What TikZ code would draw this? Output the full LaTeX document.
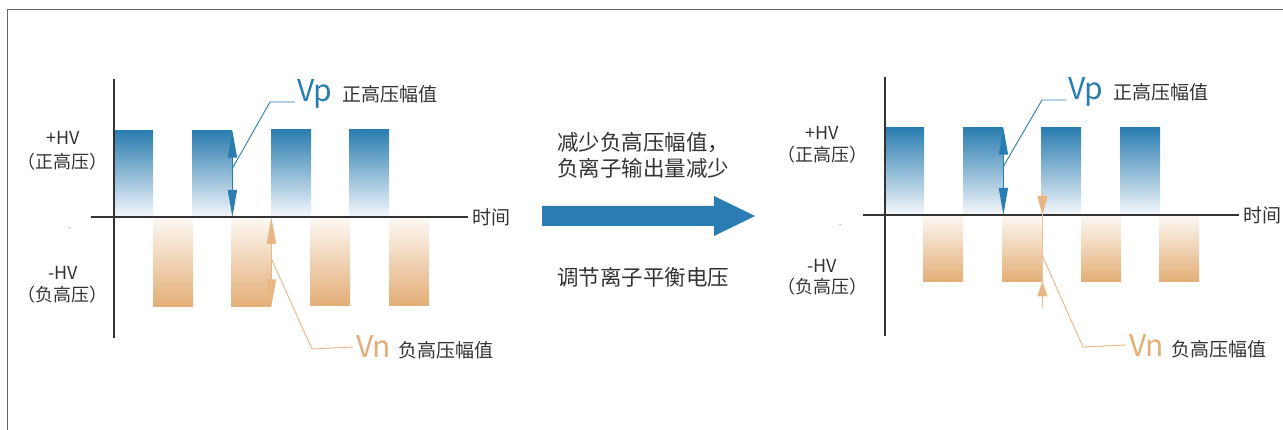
\documentclass[tikz,border=0pt]{standalone}
\usepackage{fontspec}
\setmainfont{Noto Sans CJK SC}
\usepackage{xcolor}
\usetikzlibrary{arrows.meta,positioning}

\definecolor{vpblue}{HTML}{2A7DB0}
\definecolor{vpfade}{HTML}{F4F7FB}
\definecolor{vnorange}{HTML}{E3AE77}
\definecolor{vnline}{HTML}{E8B683}
\definecolor{vnfade}{HTML}{FCF8F3}
\definecolor{txtgray}{HTML}{333333}
\definecolor{axisgray}{HTML}{333333}

\begin{document}
\begin{tikzpicture}[x=1pt, y=-1pt,
    axis/.style={draw=axisgray, line width=1.3pt},
    pos bar/.style={inner sep=0, minimum width=40, minimum height=#1, top color=vpblue, bottom color=vpfade, anchor=south west},
    neg bar/.style={inner sep=0, minimum width=40, minimum height=#1, top color=vnfade, bottom color=vnorange, anchor=north west},
    hv label/.style={text=txtgray, font=\fontsize{18}{20}\selectfont, inner sep=0},
    amp label/.style={text=txtgray, font=\fontsize{19}{21}\selectfont, inner sep=0, anchor=base west},
    vp text/.style={text=vpblue, font=\fontsize{30}{32}\selectfont, inner sep=0, anchor=base west},
    vn text/.style={text=vnorange, font=\fontsize{30}{32}\selectfont, inner sep=0, anchor=base west},
    mid text/.style={text=txtgray, font=\fontsize{21.5}{26}\selectfont, inner sep=0, anchor=west, align=left},
    vp arrow/.style={draw=vpblue, line width=1.5pt, arrows={Triangle[length=27pt,width=9pt]-Triangle[length=27pt,width=9pt]}},
    vn arrow/.style={draw=vnline, line width=1.5pt, arrows={Triangle[length=27pt,width=9pt]-Triangle[length=27pt,width=9pt]}},
    vp lead/.style={draw=vpblue, line width=0.9pt},
    vn lead/.style={draw=vnline, line width=0.9pt}]

  % frame
  \useasboundingbox (0,0) rectangle (1283,430);
  \draw[gray!80!black, line width=1pt] (1283,10) -- (7,10) -- (7,430);

  % left panel
  \node[pos bar=86] (p1) at (113,217) {};
  \node[pos bar=86] (p2) at (192,217) {};
  \node[pos bar=87] (p3) at (271,217) {};
  \node[pos bar=87] (p4) at (349,217) {};
  \node[neg bar=89] (n1) at (153,217) {};
  \node[neg bar=89] (n2) at (231,217) {};
  \node[neg bar=88] (n3) at (310,217) {};
  \node[neg bar=88] (n4) at (389,217) {};

  \node[amp label, anchor=west] (t1) at (472,217) {时间};
  \draw[axis] (91,217) -- ([xshift=-4pt]t1.west);
  \draw[axis] (114,79) -- (114,338);
  \draw[gray!40, line width=0.8pt] (67.5,227) -- (70.5,227);

  \node[hv label] (hp1) at (63,138) {+HV};
  \node[hv label] (hp1b) at (62,162) {（正高压）};
  \node[hv label] (hn1) at (63,273) {-HV};
  \node[hv label] (hn1b) at (62,295) {（负高压）};

  \draw[vp arrow] (p2.north east) -- (p2.south east);
  \draw[vn arrow] (n2.north east) -- (n2.south east);

  \node[vp text] (vp1) at (297,102) {Vp};
  \node[amp label] (vpt1) at ([xshift=10pt]vp1.base east) {正高压幅值};
  \node[vn text] (vn1) at (356,358) {Vn};
  \node[amp label] (vnt1) at ([xshift=7pt]vn1.base east) {负高压幅值};

  \coordinate (k1) at (232,169);
  \coordinate (b1) at (270,102);
  \draw[vp lead] (k1) -- (b1) -- ([xshift=-2pt]vp1.base west);
  \coordinate (k2) at (271,258);
  \coordinate (b2) at (312,349);
  \draw[vn lead] (k2) -- (b2) -- ([xshift=-3pt]vn1.west);

  % middle
  \node[mid text] (why) at (557,155) {减少负高压幅值，\\负离子输出量减少};
  \fill[vpblue] (542,206) -- (714,206) -- (714,196) -- (755,216) -- (714,236) -- (714,226) -- (542,226) -- cycle;
  \node[mid text] (how) at (557,277) {调节离子平衡电压};

  % right panel
  \node[pos bar=87] (p5) at (884,215) {};
  \node[pos bar=87] (p6) at (963,215) {};
  \node[pos bar=87] (p7) at (1041,215) {};
  \node[pos bar=87] (p8) at (1120,215) {};
  \node[neg bar=66] (n5) at (923,215) {};
  \node[neg bar=66] (n6) at (1002,215) {};
  \node[neg bar=66] (n7) at (1081,215) {};
  \node[neg bar=66] (n8) at (1159,215) {};

  \node[amp label, anchor=west] (t2) at (1243,215) {时间};
  \draw[axis] (863,215) -- ([xshift=-4pt]t2.west);
  \draw[axis] (885,77) -- (885,336);
  \draw[gray!40, line width=0.8pt] (838.5,224) -- (841.5,224);

  \node[hv label] (hp2) at (822,133) {+HV};
  \node[hv label] (hp2b) at (822,155) {（正高压）};
  \node[hv label] (hn2) at (822,266) {-HV};
  \node[hv label] (hn2b) at (822,287) {（负高压）};

  \draw[vp arrow] (p6.north east) -- (p6.south east);
  \coordinate (na) at ([yshift=22pt]n6.north east);
  \coordinate (nb) at ([yshift=-27pt]n6.south east);
  \draw[draw=vnline!80, line width=1.5pt] (na) -- (nb);
  \draw[draw=vnline, line width=1.5pt, -{Triangle[length=19pt,width=10pt]}] (na) -- (n6.north east);
  \draw[draw=vnline, line width=1.5pt, -{Triangle[length=15pt,width=10pt]}] (nb) -- (n6.south east);

  \node[vp text] (vp2) at (1068,100) {Vp};
  \node[amp label] (vpt2) at ([xshift=10pt]vp2.base east) {正高压幅值};
  \node[vn text] (vn2) at (1129,356) {Vn};
  \node[amp label] (vnt2) at ([xshift=7pt]vn2.base east) {负高压幅值};

  \coordinate (k3) at (1003,167);
  \coordinate (b3) at (1042,100);
  \draw[vp lead] (k3) -- (b3) -- ([xshift=-2pt]vp2.base west);
  \coordinate (k4) at (1042,255);
  \coordinate (b4) at (1083,347);
  \draw[vn lead] (k4) -- (b4) -- ([xshift=-3pt]vn2.west);
\end{tikzpicture}
\end{document}
